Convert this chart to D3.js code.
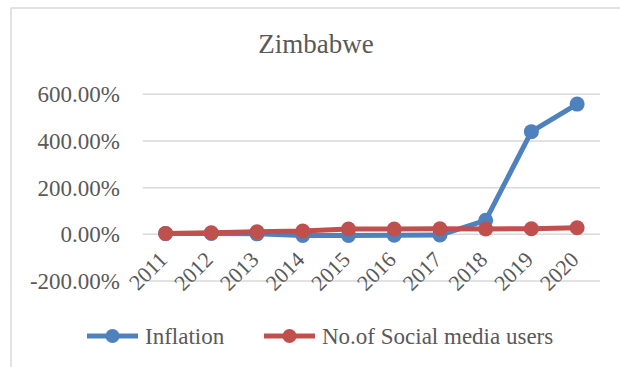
<!DOCTYPE html>
<html>
<head>
<meta charset="utf-8">
<script src="https://cdn.jsdelivr.net/npm/d3@7"></script>
</head>
<body style="margin:0;background:#fff">
<svg id="chart" width="620" height="367" style="display:block" font-family="Liberation Serif, Times New Roman, serif"></svg>
<script>
// Zimbabwe: inflation vs. social media users, 2011-2020 (percent)
const years = ["2011","2012","2013","2014","2015","2016","2017","2018","2019","2020"];
const inflation = [3, 4, 2, -5, -5, -4, -3, 60, 440, 558];
const socialMediaUsers = [4, 7, 11, 14, 23, 23, 24, 23, 24, 28];
const yTicks = [-200, 0, 200, 400, 600];
const seriesNames = ["Inflation", "No.of Social media users"];
const seriesColors = ["#4F81BD", "#C0504D"];

const FONT = "Liberation Serif, Times New Roman, serif";
const TEXT_COLOR = "#595959";

const svg = d3.select("#chart");
const W = 620, H = 367;

// outer chart frame (extends past the right and bottom edges)
svg.append("rect")
  .attr("x", 11).attr("y", 8)
  .attr("width", W + 20).attr("height", H + 20)
  .attr("fill", "#fff").attr("stroke", "#D9D9D9").attr("stroke-width", 1.5);

const plot = { left: 142.7, right: 600, top: 94.3, bottom: 281 };

const x = d3.scalePoint().domain(years).range([plot.left, plot.right]).padding(0.5);
const y = d3.scaleLinear().domain([-200, 600]).range([plot.bottom, plot.top]);

function styleText(sel, size) {
  sel.attr("font-family", FONT).attr("font-size", size).attr("fill", TEXT_COLOR);
}

// title
svg.append("text")
  .attr("x", 316).attr("y", 53)
  .attr("text-anchor", "middle")
  .call(styleText, 27)
  .text("Zimbabwe");

// horizontal gridlines
svg.append("g").selectAll("line").data(yTicks).join("line")
  .attr("x1", plot.left).attr("x2", plot.right)
  .attr("y1", d => y(d)).attr("y2", d => y(d))
  .attr("stroke", "#D9D9D9").attr("stroke-width", 1.5);

// y axis labels (plain hyphen for the minus sign)
const pct = d3.format(".2f");
const yAxis = d3.axisLeft(y).tickValues(yTicks).tickSize(0).tickPadding(0)
  .tickFormat(d => pct(d).replace("\u2212", "-") + "%");
const yg = svg.append("g").attr("transform", "translate(120,0)").call(yAxis)
  .attr("font-family", FONT).attr("font-size", 23);
yg.select(".domain").remove();
yg.selectAll("text").call(styleText, 23).attr("dy", "0.33em");

// x axis labels, rotated, hanging below the zero line
svg.append("g").selectAll("text").data(years).join("text")
  .attr("transform", d => `translate(${x(d) + 3},261) rotate(-45)`)
  .attr("text-anchor", "end")
  .call(styleText, 22)
  .text(d => d);

// series
const series = [inflation, socialMediaUsers];
series.forEach((vals, i) => {
  const pts = years.map((yr, j) => [x(yr), y(vals[j])]);
  const g = svg.append("g");
  g.append("path")
    .attr("d", d3.line()(pts))
    .attr("fill", "none")
    .attr("stroke", seriesColors[i])
    .attr("stroke-width", 5)
    .attr("stroke-linejoin", "round")
    .attr("stroke-linecap", "round");
  g.selectAll("circle").data(pts).join("circle")
    .attr("cx", d => d[0]).attr("cy", d => d[1])
    .attr("r", 7.5).attr("fill", seriesColors[i]);
});

// legend
const legendItems = [
  { x0: 87, x1: 138, tx: 145 },
  { x0: 264, x1: 315, tx: 322 }
];
legendItems.forEach((it, i) => {
  const g = svg.append("g");
  g.append("line")
    .attr("x1", it.x0).attr("x2", it.x1).attr("y1", 336).attr("y2", 336)
    .attr("stroke", seriesColors[i]).attr("stroke-width", 5);
  g.append("circle").attr("cx", (it.x0 + it.x1) / 2).attr("cy", 336).attr("r", 7)
    .attr("fill", seriesColors[i]);
  g.append("text").attr("x", it.tx).attr("y", 344)
    .call(styleText, 23).text(seriesNames[i]);
});
</script>
</body>
</html>
